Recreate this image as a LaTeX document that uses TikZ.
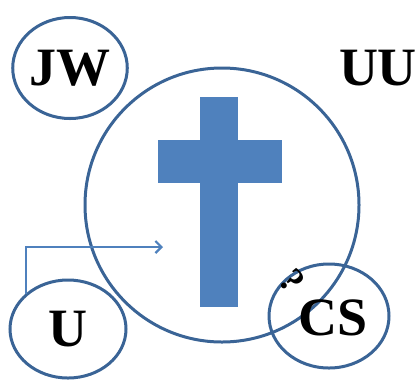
\documentclass[tikz,border=0pt]{standalone}
\usepackage{fontspec}
\setmainfont{Liberation Serif}
\usetikzlibrary{positioning, shapes.geometric, arrows.meta}

\definecolor{ringblue}{HTML}{3A6496}
\definecolor{crossblue}{HTML}{4F81BD}

\begin{document}
\begin{tikzpicture}[x=1pt, y=-1pt,
    group/.style={draw=ringblue, line width=3pt, ellipse, inner sep=0pt},
    label/.style={font=\fontsize{54}{54}\selectfont\bfseries, inner sep=0pt}]
  \useasboundingbox (0,0) rectangle (419,381);

  % big circle and the cross
  \node[group, minimum width=274pt, minimum height=274pt] (church) at (222,205) {};
  \fill[crossblue] (200,97) rectangle (238,307);
  \fill[crossblue] (158,140) rectangle (282,183);

  % the small groups
  \node[group, minimum width=114pt, minimum height=101pt, label] (jw) at (70,68) {JW};
  \node[group, minimum width=116pt, minimum height=98pt, label] (u) at (68,329) {U};
  \node[group, minimum width=120pt, minimum height=104pt] (cs) at (329,316) {};
  \node[label] (cstext) at (333,318) {CS};
  \node[label] (uu) at (378,68) {UU};
  \node[font=\fontsize{36}{36}\selectfont\bfseries, rotate=-50, inner sep=0pt] (ask) at (292,281) {?};

  % arrow into the circle
  \coordinate (tip) at (163,247);
  \draw[crossblue, line width=2.2pt, -{Straight Barb[length=6pt, width=12pt]}] (u.140) |- (tip);
\end{tikzpicture}
\end{document}
